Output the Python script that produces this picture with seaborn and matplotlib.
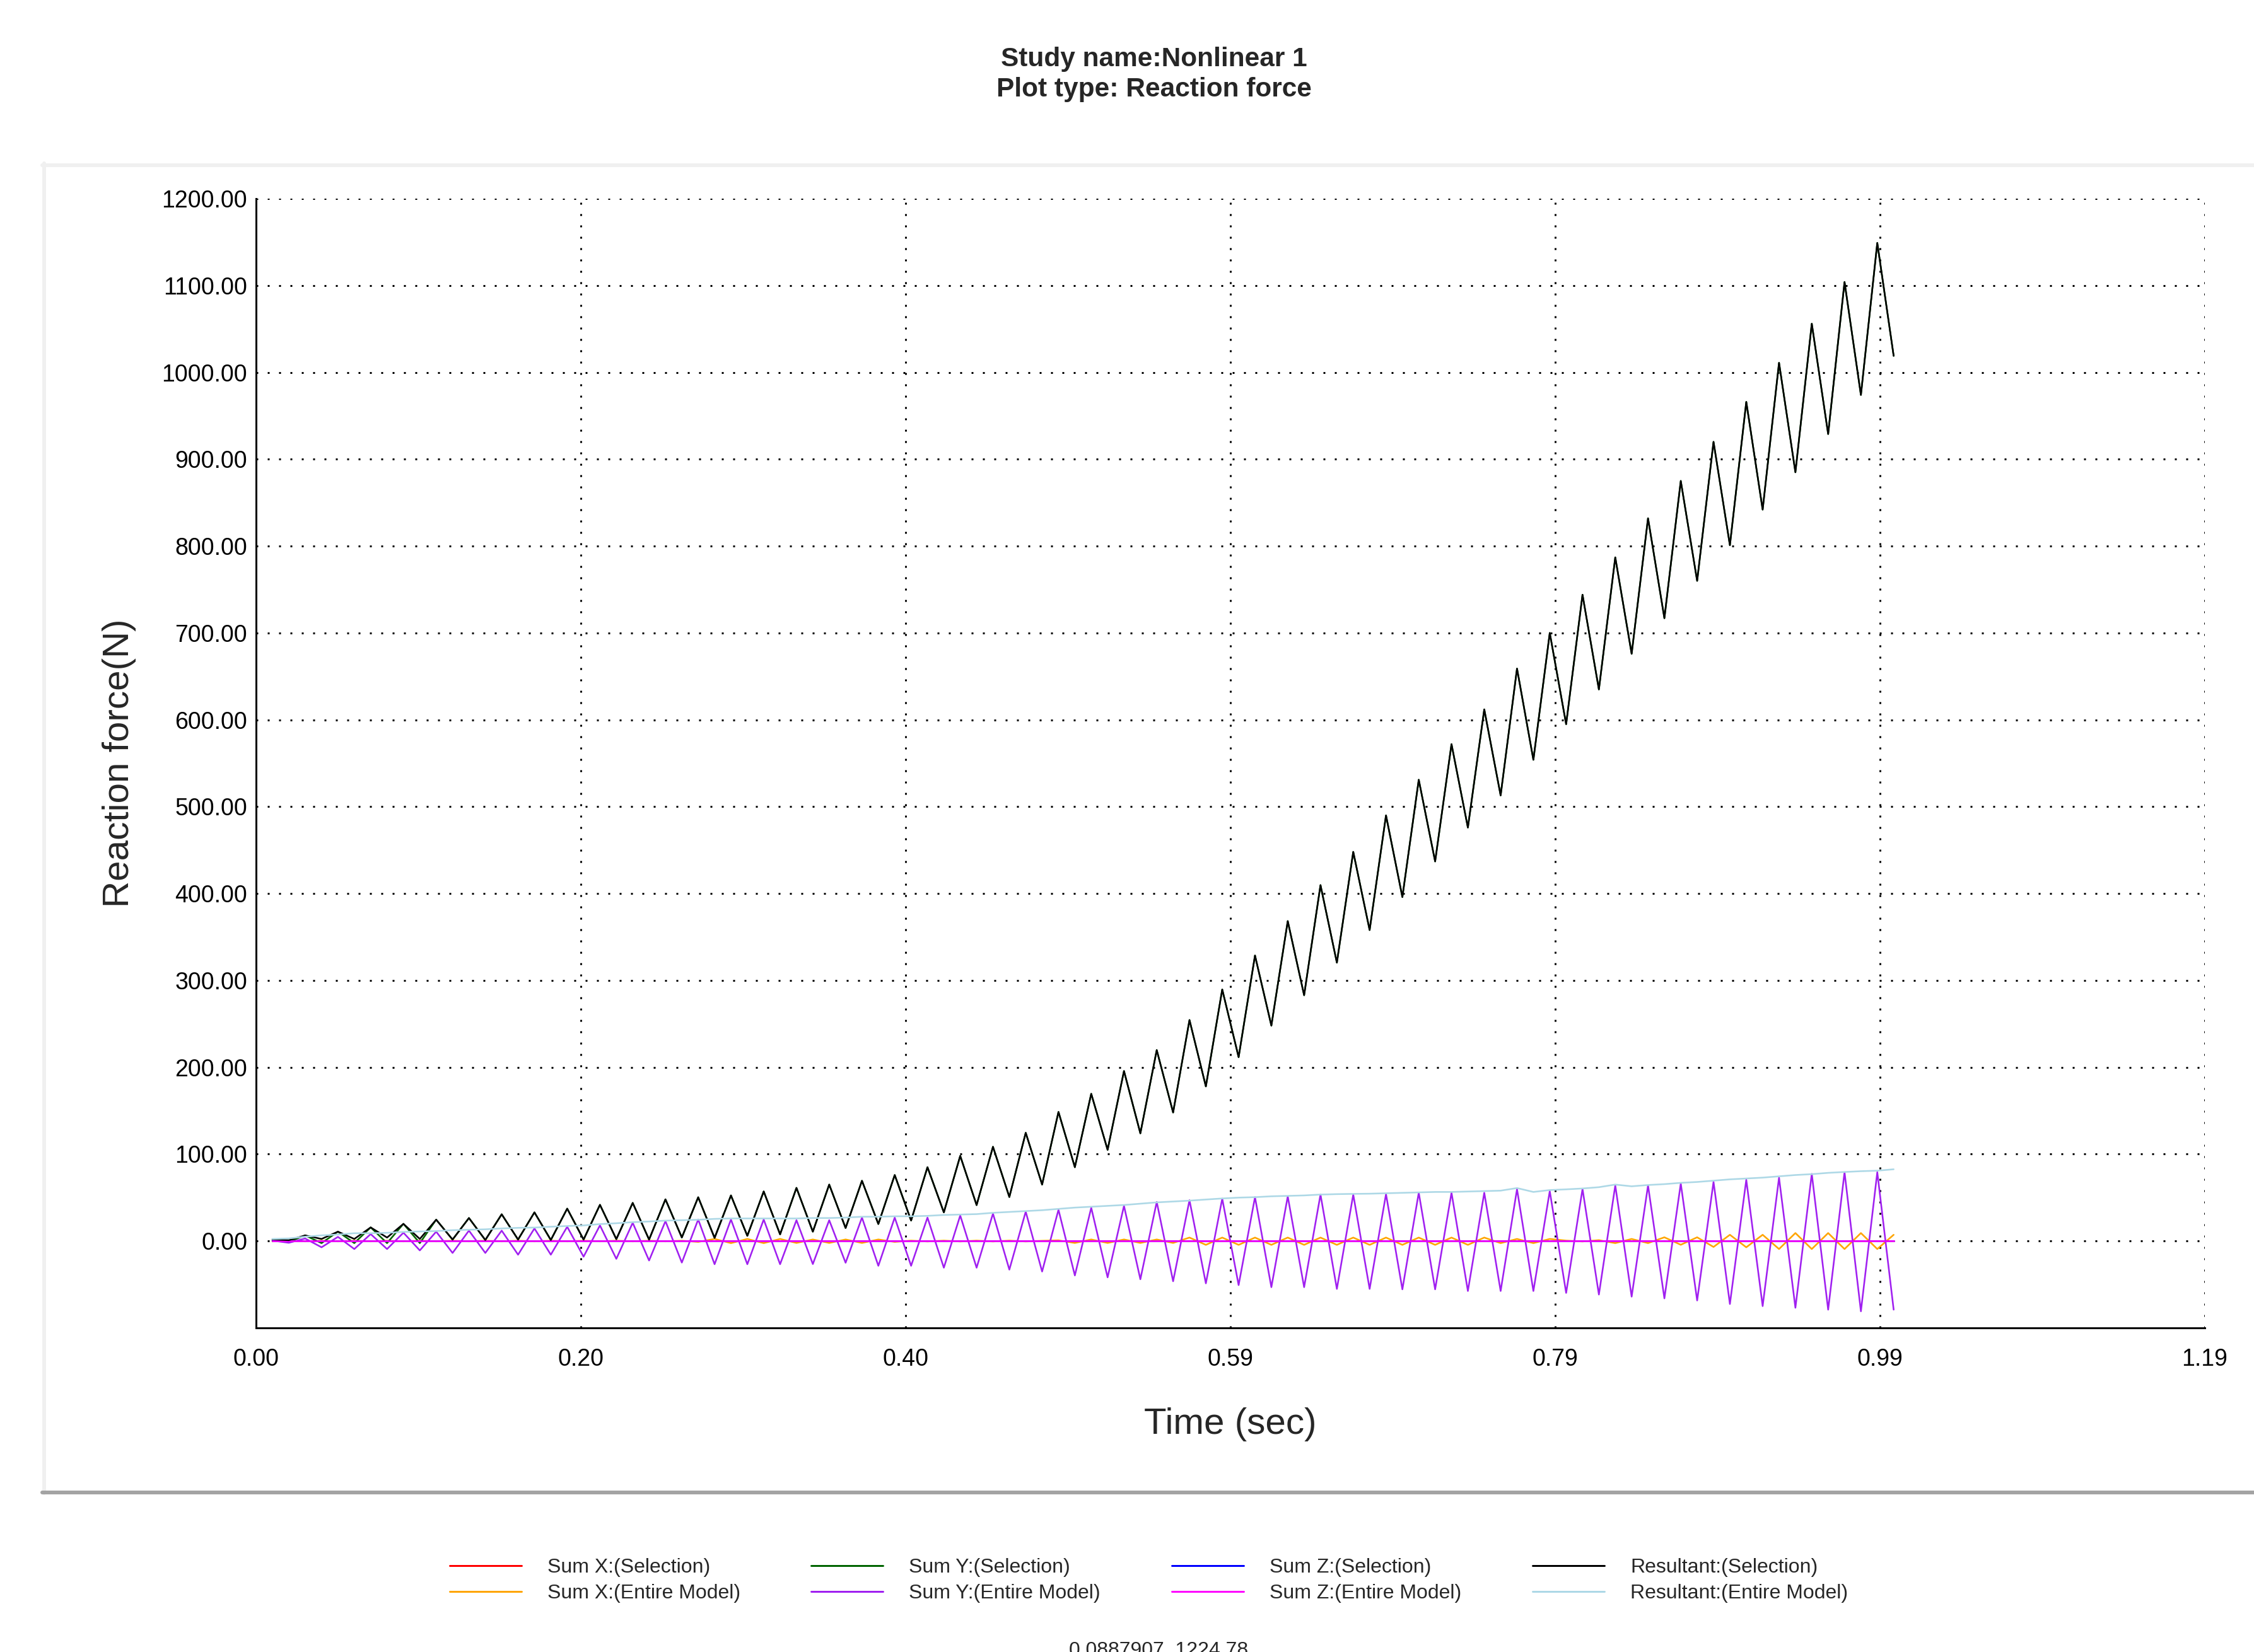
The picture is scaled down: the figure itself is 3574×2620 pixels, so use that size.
import matplotlib
matplotlib.use("Agg")
import matplotlib.pyplot as plt
from matplotlib.lines import Line2D
from matplotlib.font_manager import FontProperties
from matplotlib.ticker import FixedLocator
import pandas as pd
import seaborn as sns

# ---------------------------------------------------------------- data
time_s = [
    0.01, 0.02, 0.03, 0.04, 0.05, 0.06, 0.07, 0.08, 0.09, 0.10,
    0.11, 0.12, 0.13, 0.14, 0.15, 0.16, 0.17, 0.18, 0.19, 0.20,
    0.21, 0.22, 0.23, 0.24, 0.25, 0.26, 0.27, 0.28, 0.29, 0.30,
    0.31, 0.32, 0.33, 0.34, 0.35, 0.36, 0.37, 0.38, 0.39, 0.40,
    0.41, 0.42, 0.43, 0.44, 0.45, 0.46, 0.47, 0.48, 0.49, 0.50,
    0.51, 0.52, 0.53, 0.54, 0.55, 0.56, 0.57, 0.58, 0.59, 0.60,
    0.61, 0.62, 0.63, 0.64, 0.65, 0.66, 0.67, 0.68, 0.69, 0.70,
    0.71, 0.72, 0.73, 0.74, 0.75, 0.76, 0.77, 0.78, 0.79, 0.80,
    0.81, 0.82, 0.83, 0.84, 0.85, 0.86, 0.87, 0.88, 0.89, 0.90,
    0.91, 0.92, 0.93, 0.94, 0.95, 0.96, 0.97, 0.98, 0.99, 1.00,
]

sum_x_selection = [
    0.0, 0.0, 0.0, 0.0, 0.0, 0.0, 0.0, 0.0, 0.0, 0.0,
    0.0, 0.0, 0.0, 0.0, 0.0, 0.0, 0.0, 0.0, 0.0, 0.0,
    0.0, 0.0, 0.0, 0.0, 0.0, 0.0, 0.0, 0.0, 0.0, 0.0,
    0.0, 0.0, 0.0, 0.0, 0.0, 0.0, 0.0, 0.0, 0.0, 0.0,
    0.0, 0.0, 0.0, 0.0, 0.0, 0.0, 0.0, 0.0, 0.0, 0.0,
    0.0, 0.0, 0.0, 0.0, 0.0, 0.0, 0.0, 0.0, 0.0, 0.0,
    0.0, 0.0, 0.0, 0.0, 0.0, 0.0, 0.0, 0.0, 0.0, 0.0,
    0.0, 0.0, 0.0, 0.0, 0.0, 0.0, 0.0, 0.0, 0.0, 0.0,
    0.0, 0.0, 0.0, 0.0, 0.0, 0.0, 0.0, 0.0, 0.0, 0.0,
    0.0, 0.0, 0.0, 0.0, 0.0, 0.0, 0.0, 0.0, 0.0, 0.0,
]

sum_x_entire = [
    -0.4, 0.4, -0.4, 0.4, -0.4, 0.4, -0.4, 0.4, -0.4, 0.4,
    -0.4, 0.4, -0.4, 0.4, -0.4, 0.4, -0.4, 0.4, -0.4, 0.4,
    -0.4, 0.4, -0.4, 0.4, -0.4, 0.4, -1.0, 2.4, -2.4, 2.4,
    -2.4, 2.4, -2.2, 1.8, -2.2, 1.8, -2.2, 1.8, -1.0, 0.5,
    -0.5, 0.5, -0.5, 0.5, -0.5, 0.5, -0.5, 0.3, 0.8, -2.2,
    1.8, -2.2, 1.8, -2.2, 1.8, -2.2, 4.0, -4.4, 4.0, -4.4,
    4.0, -4.4, 4.0, -4.4, 4.0, -4.4, 4.0, -4.4, 4.0, -4.4,
    4.0, -4.4, 4.0, -4.4, 4.0, -2.4, 2.4, -2.4, 2.4, 0.5,
    -0.5, 1.0, -2.4, 2.4, -2.4, 4.3, -4.3, 4.3, -6.8, 7.2,
    -7.2, 7.2, -9.2, 9.2, -9.2, 9.2, -9.2, 9.2, -9.2, 7.2,
]

sum_y_selection = [
    0.5, -1.0, 6.5, -2.4, 10.8, -2.4, 15.7, -2.4, 19.8, -2.4,
    24.6, 1.7, 26.5, 1.2, 30.8, 1.7, 33.0, 1.2, 37.3, 1.7,
    41.7, 2.2, 43.9, 1.7, 48.0, 4.1, 50.4, 3.6, 52.5, 6.0,
    57.1, 7.7, 61.2, 10.8, 65.0, 15.0, 69.4, 19.6, 76.0, 23.6,
    85.0, 33.0, 98.0, 41.4, 108.5, 50.7, 124.6, 65.0, 148.6, 85.0,
    169.5, 105.0, 195.7, 124.0, 219.8, 148.0, 254.4, 178.0, 289.6, 211.7,
    328.7, 248.0, 368.3, 283.0, 409.7, 320.5, 448.0, 358.0, 490.0, 396.0,
    531.0, 437.0, 572.0, 476.0, 612.0, 513.0, 659.0, 554.0, 700.0, 595.0,
    744.0, 635.0, 787.0, 676.0, 832.0, 717.0, 875.0, 760.0, 920.0, 801.0,
    966.0, 842.0, 1011.0, 885.0, 1056.0, 929.0, 1104.0, 974.0, 1149.0, 1019.0,
]

sum_y_entire = [
    0.5, -2.0, 2.9, -7.2, 4.8, -9.2, 8.0, -9.2, 9.6, -10.8,
    10.8, -13.7, 12.0, -13.7, 12.0, -15.7, 14.5, -15.7, 16.4, -18.0,
    18.0, -20.5, 21.0, -22.4, 22.9, -24.8, 24.8, -26.7, 24.8, -26.7,
    24.8, -26.7, 24.0, -26.5, 24.0, -25.0, 27.0, -28.5, 27.0, -28.5,
    27.0, -30.7, 29.4, -30.7, 31.6, -32.9, 33.8, -35.1, 36.0, -39.6,
    38.3, -41.8, 40.5, -44.0, 45.0, -46.3, 47.0, -48.7, 48.8, -50.7,
    50.5, -53.1, 51.4, -53.1, 53.5, -55.1, 53.5, -55.1, 54.0, -55.6,
    55.6, -55.6, 55.6, -57.5, 55.6, -57.5, 59.7, -57.5, 57.5, -59.7,
    59.9, -61.6, 64.0, -64.0, 64.0, -66.0, 66.2, -68.4, 68.1, -72.5,
    70.5, -74.9, 72.9, -76.8, 77.3, -79.0, 79.2, -80.9, 79.2, -79.0,
]

sum_z_selection = [
    0.0, 0.0, 0.0, 0.0, 0.0, 0.0, 0.0, 0.0, 0.0, 0.0,
    0.0, 0.0, 0.0, 0.0, 0.0, 0.0, 0.0, 0.0, 0.0, 0.0,
    0.0, 0.0, 0.0, 0.0, 0.0, 0.0, 0.0, 0.0, 0.0, 0.0,
    0.0, 0.0, 0.0, 0.0, 0.0, 0.0, 0.0, 0.0, 0.0, 0.0,
    0.0, 0.0, 0.0, 0.0, 0.0, 0.0, 0.0, 0.0, 0.0, 0.0,
    0.0, 0.0, 0.0, 0.0, 0.0, 0.0, 0.0, 0.0, 0.0, 0.0,
    0.0, 0.0, 0.0, 0.0, 0.0, 0.0, 0.0, 0.0, 0.0, 0.0,
    0.0, 0.0, 0.0, 0.0, 0.0, 0.0, 0.0, 0.0, 0.0, 0.0,
    0.0, 0.0, 0.0, 0.0, 0.0, 0.0, 0.0, 0.0, 0.0, 0.0,
    0.0, 0.0, 0.0, 0.0, 0.0, 0.0, 0.0, 0.0, 0.0, 0.0,
]

sum_z_entire = [
    0.0, 0.0, 0.0, 0.0, 0.0, 0.0, 0.0, 0.0, 0.0, 0.0,
    0.0, 0.0, 0.0, 0.0, 0.0, 0.0, 0.0, 0.0, 0.0, 0.0,
    0.0, 0.0, 0.0, 0.0, 0.0, 0.0, 0.0, 0.0, 0.0, 0.0,
    0.0, 0.0, 0.0, 0.0, 0.0, 0.0, 0.0, 0.0, 0.0, 0.0,
    0.0, 0.0, 0.0, 0.0, 0.0, 0.0, 0.0, 0.0, 0.0, 0.0,
    0.0, 0.0, 0.0, 0.0, 0.0, 0.0, 0.0, 0.0, 0.0, 0.0,
    0.0, 0.0, 0.0, 0.0, 0.0, 0.0, 0.0, 0.0, 0.0, 0.0,
    0.0, 0.0, 0.0, 0.0, 0.0, 0.0, 0.0, 0.0, 0.0, 0.0,
    0.0, 0.0, 0.0, 0.0, 0.0, 0.0, 0.0, 0.0, 0.0, 0.0,
    0.0, 0.0, 0.0, 0.0, 0.0, 0.0, 0.0, 0.0, 0.0, 0.0,
]

resultant_selection = [
    2.0, 1.0, 6.5, 2.4, 10.8, 2.4, 15.7, 4.0, 19.8, 2.4,
    24.6, 1.7, 26.5, 1.2, 30.8, 1.7, 33.0, 1.2, 37.3, 1.7,
    41.7, 2.2, 43.9, 1.7, 48.0, 4.1, 50.4, 3.6, 52.5, 6.0,
    57.1, 7.7, 61.2, 10.8, 65.0, 15.0, 69.4, 19.6, 76.0, 23.6,
    85.0, 33.0, 98.0, 41.4, 108.5, 50.7, 124.6, 65.0, 148.6, 85.0,
    169.5, 105.0, 195.7, 124.0, 219.8, 148.0, 254.4, 178.0, 289.6, 211.7,
    328.7, 248.0, 368.3, 283.0, 409.7, 320.5, 448.0, 358.0, 490.0, 396.0,
    531.0, 437.0, 572.0, 476.0, 612.0, 513.0, 659.0, 554.0, 700.0, 595.0,
    744.0, 635.0, 787.0, 676.0, 832.0, 717.0, 875.0, 760.0, 920.0, 801.0,
    966.0, 842.0, 1011.0, 885.0, 1056.0, 929.0, 1104.0, 974.0, 1149.0, 1019.0,
]

resultant_entire = [
    2.4, 3.0, 5.0, 6.5, 7.5, 9.0, 9.0, 9.5, 10.5, 11.0,
    11.5, 12.5, 13.0, 13.5, 14.5, 15.2, 15.5, 16.5, 17.3, 18.0,
    19.5, 20.5, 21.7, 22.5, 23.5, 24.0, 24.5, 25.5, 26.0, 26.0,
    26.0, 26.0, 26.0, 26.5, 26.5, 27.0, 28.0, 28.0, 28.5, 28.5,
    29.0, 30.0, 30.5, 31.0, 32.5, 33.5, 34.5, 35.5, 37.0, 38.5,
    39.5, 40.5, 41.5, 43.0, 44.5, 45.5, 46.5, 47.8, 49.0, 50.0,
    50.5, 51.5, 52.0, 52.5, 53.5, 54.0, 54.3, 54.5, 55.0, 55.5,
    56.0, 56.5, 56.5, 57.0, 57.5, 58.0, 61.0, 56.5, 58.7, 59.5,
    60.5, 62.0, 65.0, 63.0, 64.5, 65.5, 67.0, 68.0, 69.5, 71.0,
    72.0, 73.0, 74.5, 76.0, 77.0, 78.5, 79.5, 80.4, 81.0, 82.6,
]

series_names = [
    "Sum X:(Selection)", "Sum X:(Entire Model)",
    "Sum Y:(Selection)", "Sum Y:(Entire Model)",
    "Sum Z:(Selection)", "Sum Z:(Entire Model)",
    "Resultant:(Selection)", "Resultant:(Entire Model)",
]
series_values = [
    sum_x_selection, sum_x_entire,
    sum_y_selection, sum_y_entire,
    sum_z_selection, sum_z_entire,
    resultant_selection, resultant_entire,
]
series_colors = [
    "#ff0000", "#ffa500",
    "#006400", "#a020f0",
    "#0000ff", "#ff00ff",
    "#000000", "#add8e6",
]

x_tick_values = [0.0, 1.19 / 6, 2 * 1.19 / 6, 3 * 1.19 / 6, 4 * 1.19 / 6, 5 * 1.19 / 6, 1.19]
x_tick_labels = ["0.00", "0.20", "0.40", "0.59", "0.79", "0.99", "1.19"]
y_tick_values = [0, 100, 200, 300, 400, 500, 600, 700, 800, 900, 1000, 1100, 1200]
y_tick_labels = ["0.00", "100.00", "200.00", "300.00", "400.00", "500.00", "600.00",
                 "700.00", "800.00", "900.00", "1000.00", "1100.00", "1200.00"]

# ---------------------------------------------------------------- style
sns.set_style("white")
plt.rcParams["font.family"] = ["Liberation Sans", "DejaVu Sans"]

W, H = 3574, 2620
fig = plt.figure(figsize=(W / 100, H / 100), dpi=100)
fig.patch.set_facecolor("white")


def fx(px):
    return px / W


def fy(py):
    return 1 - py / H


PT = 72 / 100  # points per pixel

# plot panel frame
fig.add_artist(Line2D([fx(67), 1.0], [fy(262), fy(262)], color="#f0f0f0",
                      lw=6 * PT, transform=fig.transFigure))
fig.add_artist(Line2D([fx(69.5), fx(69.5)], [fy(259), fy(2368)], color="#f0f0f0",
                      lw=6 * PT, transform=fig.transFigure))
fig.add_artist(Line2D([fx(67), 1.0], [fy(2367), fy(2367)], color="#a3a3a3",
                      lw=6 * PT, transform=fig.transFigure))

ax = fig.add_axes([fx(406), fy(2106), (3496 - 406) / W, (2106 - 315) / H])
ax.set_facecolor("white")

# ---------------------------------------------------------------- lines
frames = [pd.DataFrame({"time": time_s, "force": vals, "series": name})
          for name, vals in zip(series_names, series_values)]
df = pd.concat(frames, ignore_index=True)

sns.lineplot(data=df, x="time", y="force", hue="series", hue_order=series_names,
             palette=dict(zip(series_names, series_colors)), estimator=None,
             errorbar=None, linewidth=2.6 * PT, legend=False, ax=ax)

# ---------------------------------------------------------------- axes
ax.set_xlim(0, 1.19)
ax.set_ylim(-100, 1200)
ax.xaxis.set_major_locator(FixedLocator(x_tick_values))
ax.set_xticklabels(x_tick_labels)
ax.xaxis.set_minor_locator(FixedLocator(
    [(a + b) / 2 for a, b in zip(x_tick_values[:-1], x_tick_values[1:])]))
ax.yaxis.set_major_locator(FixedLocator(y_tick_values))
ax.set_yticklabels(y_tick_labels)
ax.yaxis.set_minor_locator(FixedLocator([v - 50 for v in y_tick_values]))

for side in ("top", "right"):
    ax.spines[side].set_visible(False)
for side in ("left", "bottom"):
    ax.spines[side].set_color("black")
    ax.spines[side].set_linewidth(3 * PT)

ax.tick_params(which="both", direction="inout", length=14 * PT, width=3 * PT,
               color="black", labelsize=27, labelcolor="black")
ax.tick_params(axis="x", which="major", pad=18)
ax.tick_params(axis="y", which="major", pad=5)

ax.set_axisbelow(True)
ax.grid(True, which="major", color="black", linestyle=(0, (1, 5)),
        linewidth=3 * PT)
for gl in ax.get_xgridlines() + ax.get_ygridlines():
    gl.set_dash_capstyle("butt")

ax.set_xlabel("Time (sec)", fontsize=42)
ax.set_ylabel("Reaction force(N)", fontsize=42)
ax.xaxis.set_label_coords(0.5, -(2232 - 2106) / (2106 - 315))
ax.yaxis.set_label_coords((216 - 406) / (3496 - 406), 0.5)

# ---------------------------------------------------------------- titles
fig.text(fx(1830), fy(105), "Study name:Nonlinear 1", ha="center",
         va="baseline", fontsize=30.5, fontweight="bold")
fig.text(fx(1830), fy(153), "Plot type: Reaction force", ha="center",
         va="baseline", fontsize=30.5, fontweight="bold")

# ---------------------------------------------------------------- legend
legend_font = FontProperties(family="Liberation Sans", size=23)
fs_px = 23 / PT
col_x = [713, 1286, 1858, 2430]
for j, x0 in enumerate(col_x):
    handles = [Line2D([], [], color=c, lw=3 * PT)
               for c in series_colors[2 * j:2 * j + 2]]
    fig.legend(handles, series_names[2 * j:2 * j + 2], loc="upper left",
               bbox_to_anchor=(fx(x0), fy(2471)), frameon=False,
               borderpad=0, borderaxespad=0, handlelength=114 / fs_px,
               handletextpad=41 / fs_px, labelspacing=0.35, prop=legend_font)

fig.text(fx(1837), fy(2603), "0.0887907, 1224.78", ha="center", va="top",
         fontproperties=legend_font)

fig.savefig("out.png", dpi=100, facecolor="white")
